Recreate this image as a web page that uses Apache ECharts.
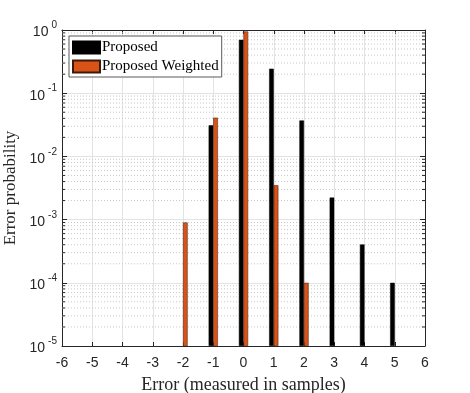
<!DOCTYPE html>
<html>
<head>
<meta charset="utf-8">
<script src="https://cdn.jsdelivr.net/npm/echarts@6/dist/echarts.min.js"></script>
<style>html,body{margin:0;padding:0;background:#fff}#c{width:470px;height:393px}</style>
</head>
<body>
<div id="c"></div>
<script>
const errors = [-6,-5,-4,-3,-2,-1,0,1,2,3,4,5,6];
const proposed = [null,null,null,null,null,0.031,0.70,0.244,0.037,0.00223,0.000404,0.0001,null];
const proposedWeighted = [null,null,null,null,0.0009,0.041,0.95,0.0035,0.0001,null,null,null,null];
const seriesNames = ['Proposed','Proposed Weighted'];
const xTicks = [-6,-5,-4,-3,-2,-1,0,1,2,3,4,5,6];
const yDecades = [-5,-4,-3,-2,-1,0];

const minorVals = [];
for (let k = -5; k < 0; k++) for (let m = 2; m <= 9; m++) minorVals.push([m * Math.pow(10, k)]);

const serif = 'Liberation Serif';
const sans = 'Liberation Sans';
const chart = echarts.init(document.getElementById('c'), null, {renderer: 'canvas'});

function pairs(vals) { return errors.map((x, i) => vals[i] == null ? null : [x, vals[i]]).filter(d => d); }

const axisLineStyle = {color: '#262626', width: 1};
const supLabel = {
  formatter: v => '{b|10}{s|' + Math.round(Math.log10(v)) + '}',
  rich: {
    b: {fontFamily: sans, fontSize: 14, color: '#262626', verticalAlign: 'bottom', lineHeight: 19},
    s: {fontFamily: sans, fontSize: 10, color: '#262626', verticalAlign: 'top', lineHeight: 19, padding: [0, 0, 0, 3]}
  },
  margin: 5
};

chart.setOption({
  animation: false,
  grid: {left: 62, right: 45, top: 30, bottom: 47, containLabel: false, outerBoundsMode: 'none'},
  legend: {
    data: seriesNames,
    orient: 'vertical',
    left: 69, top: 36,
    padding: [4, 3, 3, 3],
    itemGap: 4,
    itemWidth: 27, itemHeight: 12,
    backgroundColor: '#fff',
    borderColor: '#5a5a5a', borderWidth: 1,
    icon: 'rect',
    textStyle: {fontFamily: serif, fontSize: 15, color: '#000', padding: [0, 0, 0, -3]}
  },
  xAxis: [{
    type: 'value', min: -6, max: 6, interval: 1,
    name: 'Error (measured in samples)', nameLocation: 'middle', nameGap: 30,
    nameTextStyle: {fontFamily: serif, fontSize: 18, color: '#262626'},
    axisLine: {show: true, onZero: false, lineStyle: axisLineStyle},
    axisTick: {show: true, inside: true, length: 4, lineStyle: axisLineStyle},
    axisLabel: {fontFamily: sans, fontSize: 14, color: '#262626', margin: 10},
    splitLine: {show: true, lineStyle: {color: '#e3e3e3', width: 1}}
  }, {
    type: 'value', min: -6, max: 6, interval: 1, position: 'top',
    axisLine: {show: true, onZero: false, lineStyle: axisLineStyle},
    axisTick: {show: true, inside: true, length: 4, lineStyle: axisLineStyle},
    axisLabel: {show: false}, splitLine: {show: false}
  }],
  yAxis: [{
    type: 'log', logBase: 10, min: 1e-5, max: 1, startValue: 1e-5,
    name: 'Error probability', nameLocation: 'middle', nameGap: 40, nameRotate: 90,
    nameTextStyle: {fontFamily: serif, fontSize: 17, color: '#262626'},
    axisLine: {show: true, onZero: false, lineStyle: axisLineStyle},
    axisTick: {show: true, inside: true, length: 5, lineStyle: axisLineStyle},
    axisLabel: supLabel,
    splitLine: {show: true, lineStyle: {color: '#e3e3e3', width: 1}},
    minorTick: {show: false}, minorSplitLine: {show: false}
  }, {
    type: 'log', logBase: 10, min: 1e-5, max: 1, position: 'right', startValue: 1e-5,
    axisLine: {show: true, onZero: false, lineStyle: axisLineStyle},
    axisTick: {show: true, inside: true, length: 5, lineStyle: axisLineStyle},
    axisLabel: {show: false}, splitLine: {show: false}
  }],
  series: [{
    type: 'custom', name: 'minor', xAxisIndex: 0, yAxisIndex: 0, silent: true, z: 1,
    data: minorVals,
    encode: {y: 0},
    renderItem: (params, api) => {
      const v = api.value(0);
      const p0 = api.coord([-6, v]);
      const p1 = api.coord([6, v]);
      return {type: 'group', children: [
        {type: 'line', shape: {x1: p0[0], y1: p0[1], x2: p1[0], y2: p1[1]}, style: {stroke: '#c8c8c8', lineWidth: 1, lineDash: [1, 2]}},
        {type: 'line', shape: {x1: p0[0], y1: p0[1], x2: p0[0] + 3, y2: p0[1]}, style: {stroke: '#262626', lineWidth: 1}},
        {type: 'line', shape: {x1: p1[0], y1: p1[1], x2: p1[0] - 3, y2: p1[1]}, style: {stroke: '#262626', lineWidth: 1}}
      ]};
    }
  }, {
    type: 'bar', name: seriesNames[0], xAxisIndex: 0, yAxisIndex: 0, z: 3,
    data: pairs(proposed), barWidth: 4.6, barGap: '0%',
    itemStyle: {color: '#000000', borderColor: '#000', borderWidth: 0.5}
  }, {
    type: 'bar', name: seriesNames[1], xAxisIndex: 0, yAxisIndex: 0, z: 3,
    data: pairs(proposedWeighted), barWidth: 4.6, barGap: '0%',
    itemStyle: {color: '#D95319', borderColor: '#3a1a08', borderWidth: 0.5}
  }]
});
</script>
</body>
</html>
